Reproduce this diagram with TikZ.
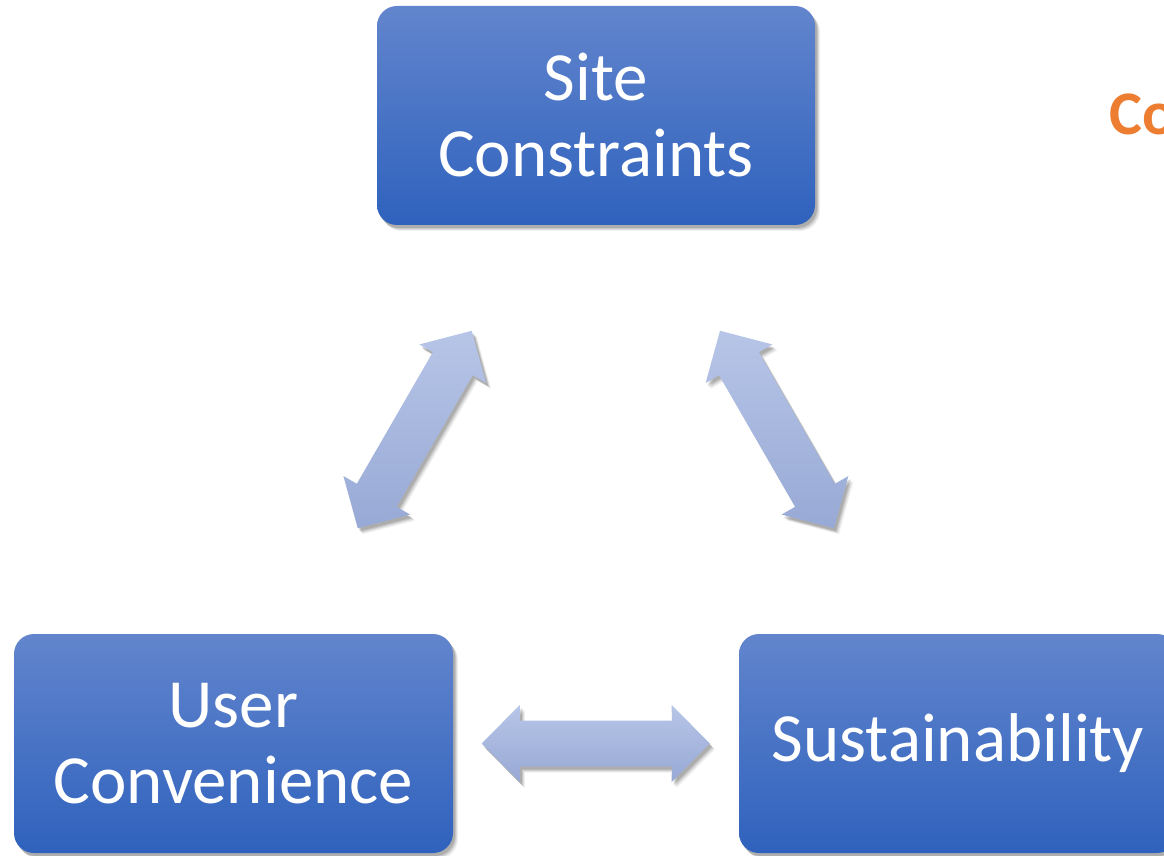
\documentclass[tikz,border=0pt]{standalone}
\usepackage{fontspec}
\setmainfont{Carlito}
\usetikzlibrary{shadows,calc}
\definecolor{boxtop}{RGB}{98,133,205}
\definecolor{boxbot}{RGB}{47,98,189}
\definecolor{arrtop}{RGB}{183,197,231}
\definecolor{arrbot}{RGB}{151,169,213}
\definecolor{orangetxt}{RGB}{237,125,49}
\begin{document}
\begin{tikzpicture}[x=1pt,y=1pt,
  softshadow/.style={
    drop shadow={shadow xshift=5pt, shadow yshift=-6pt, opacity=0.06, fill=black},
    drop shadow={shadow xshift=4pt, shadow yshift=-5pt, opacity=0.08, fill=black},
    drop shadow={shadow xshift=3pt, shadow yshift=-4pt, opacity=0.10, fill=black},
    drop shadow={shadow xshift=2pt, shadow yshift=-3pt, opacity=0.12, fill=black}},
  boxnode/.style={rounded corners=20pt, minimum width=438pt, minimum height=219pt,
    top color=boxtop, bottom color=boxbot, text=white, align=center, inner sep=0pt,
    font=\fontsize{69}{76}\selectfont, softshadow},
  arrowfill/.style={top color=arrtop, bottom color=arrbot, draw=none, softshadow},
  pics/dblarr/.style={code={
    \path[arrowfill] (#1:114) -- (#1+26.87:85.19) -- (#1+16.84:79.40)
      -- (#1+163.16:79.40) -- (#1+153.13:85.19) -- (#1+180:114)
      -- (#1+206.87:85.19) -- (#1+196.84:79.40) -- (#1-16.84:79.40)
      -- (#1-26.87:85.19) -- cycle;
  }}
]
\useasboundingbox (0,0) rectangle (1164,855);
\fill[white] (0,0) rectangle (1164,855);
\begin{scope}
\clip (0,0) rectangle (1164,855);
\node[boxnode] (site) at (596,739.5) {Site\\Constraints};
\node[boxnode, minimum width=439pt] (user) at (233.5,111.5) {User\\Convenience};
\node[boxnode] (sust) at (958,111.5) {Sustainability};
\pic at ($(site)!0.5!(user)$) {dblarr=60};
\pic at ($(site)!0.5!(sust)$) {dblarr=-60};
\pic at ($(user)!0.5!(sust)$) {dblarr=0};
\node[anchor=base west, inner sep=0pt, text=orangetxt,
  font=\bfseries\fontsize{62}{70}\selectfont] (co) at (1109,720) {Co};
\end{scope}
\end{tikzpicture}
\end{document}
